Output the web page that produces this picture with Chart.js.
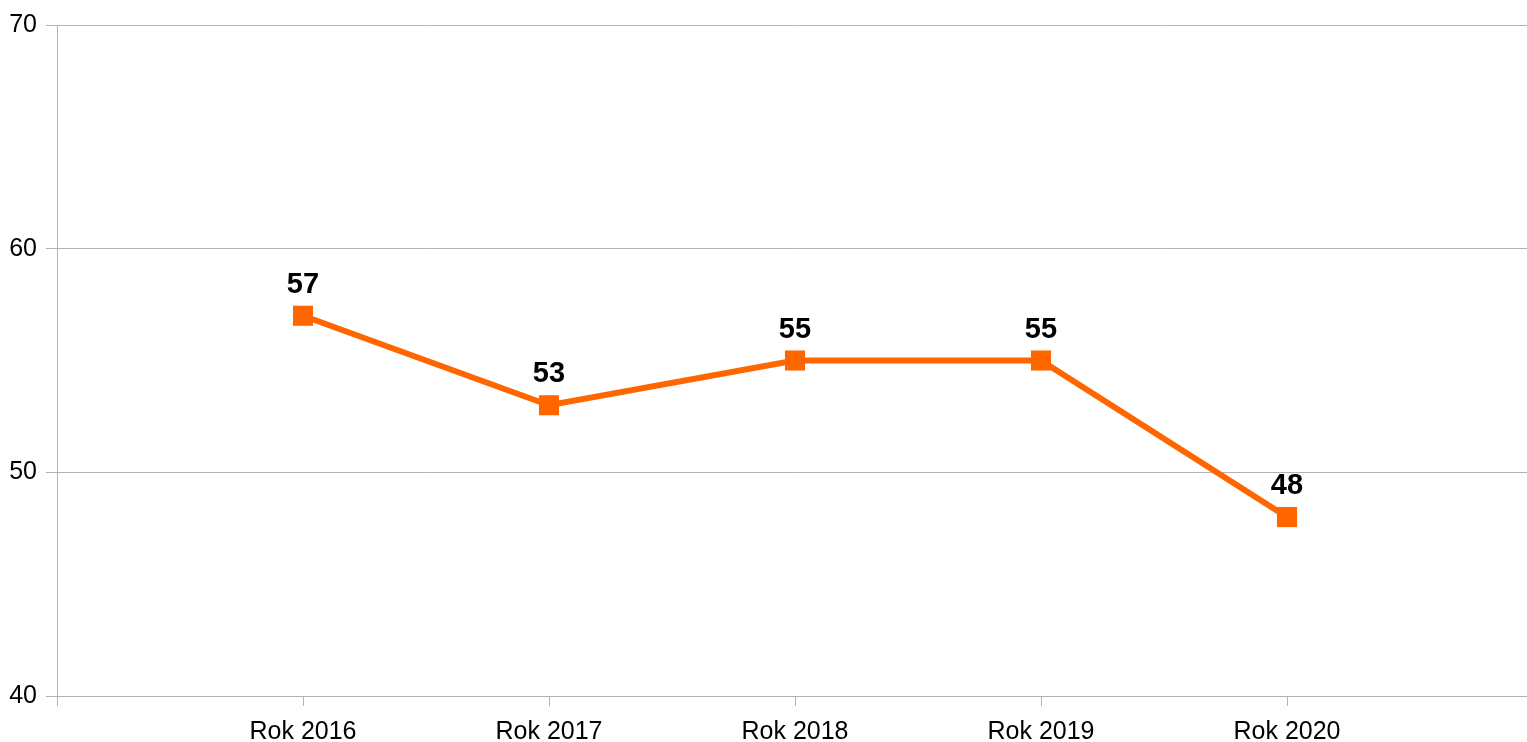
<!DOCTYPE html>
<html>
<head>
<meta charset="utf-8">
<script src="https://cdn.jsdelivr.net/npm/chart.js@4/dist/chart.umd.min.js"></script>
<style>
html,body{margin:0;padding:0;background:#fff;overflow:hidden;}
#wrap{width:1527px;height:742px;overflow:hidden;}
canvas{display:block;}
</style>
</head>
<body>
<div id="wrap"><canvas id="c" width="1533" height="742"></canvas></div>
<script>
const categories = ['Rok 2016', 'Rok 2017', 'Rok 2018', 'Rok 2019', 'Rok 2020'];
const values = [57, 53, 55, 55, 48];
const yTicks = [40, 50, 60, 70];

const lineColor = '#ff6600';
const gridColor = '#b3b3b3';

const valueLabels = {
  id: 'valueLabels',
  afterDatasetsDraw(chart) {
    const ctx = chart.ctx;
    const meta = chart.getDatasetMeta(0);
    ctx.save();
    ctx.font = 'bold 29px "Liberation Sans", Arial, sans-serif';
    ctx.fillStyle = '#000';
    ctx.textAlign = 'center';
    ctx.textBaseline = 'alphabetic';
    meta.data.forEach((pt, i) => {
      ctx.fillText(String(values[i]), pt.x, pt.y - 23);
    });
    ctx.restore();
  }
};

new Chart(document.getElementById('c'), {
  type: 'line',
  data: {
    datasets: [{
      data: values.map((v, i) => ({x: i, y: v})),
      borderColor: lineColor,
      backgroundColor: lineColor,
      borderWidth: 6,
      pointStyle: 'rect',
      pointRadius: 14.2,
      pointHoverRadius: 14.2,
      pointBorderWidth: 0,
      pointBackgroundColor: lineColor,
      tension: 0,
      fill: false
    }]
  },
  options: {
    responsive: false,
    animation: false,
    events: [],
    layout: {autoPadding: false, padding: {top: 25, right: 0, left: 0, bottom: 0}},
    plugins: {legend: {display: false}, tooltip: {enabled: false}},
    scales: {
      x: {
        type: 'linear',
        min: -1,
        max: categories.length,
        afterBuildTicks(scale) {
          const t = [{value: -1}];
          categories.forEach((c, i) => t.push({value: i}));
          scale.ticks = t;
        },
        afterFit(scale) { scale.height = 46; scale.paddingRight = 0; scale.paddingLeft = 0; },
        ticks: {
          autoSkip: false,
          maxRotation: 0,
          padding: 11,
          color: '#000',
          font: {family: '"Liberation Sans", Arial, sans-serif', size: 25},
          callback: (v) => (v >= 0 && v < categories.length) ? categories[v] : ''
        },
        grid: {
          drawOnChartArea: false,
          drawTicks: true,
          tickLength: 10,
          color: gridColor,
          lineWidth: 1
        },
        border: {display: true, color: gridColor, width: 1}
      },
      y: {
        min: yTicks[0],
        max: yTicks[yTicks.length - 1],
        afterBuildTicks(scale) {
          scale.ticks = yTicks.map(v => ({value: v}));
        },
        afterFit(scale) { scale.width = 57; },
        ticks: {
          padding: 9,
          color: '#000',
          font: {family: '"Liberation Sans", Arial, sans-serif', size: 25}
        },
        grid: {
          color: gridColor,
          lineWidth: 1,
          tickLength: 11,
          drawTicks: true
        },
        border: {display: true, color: gridColor, width: 1}
      }
    }
  },
  plugins: [valueLabels]
});
</script>
</body>
</html>
